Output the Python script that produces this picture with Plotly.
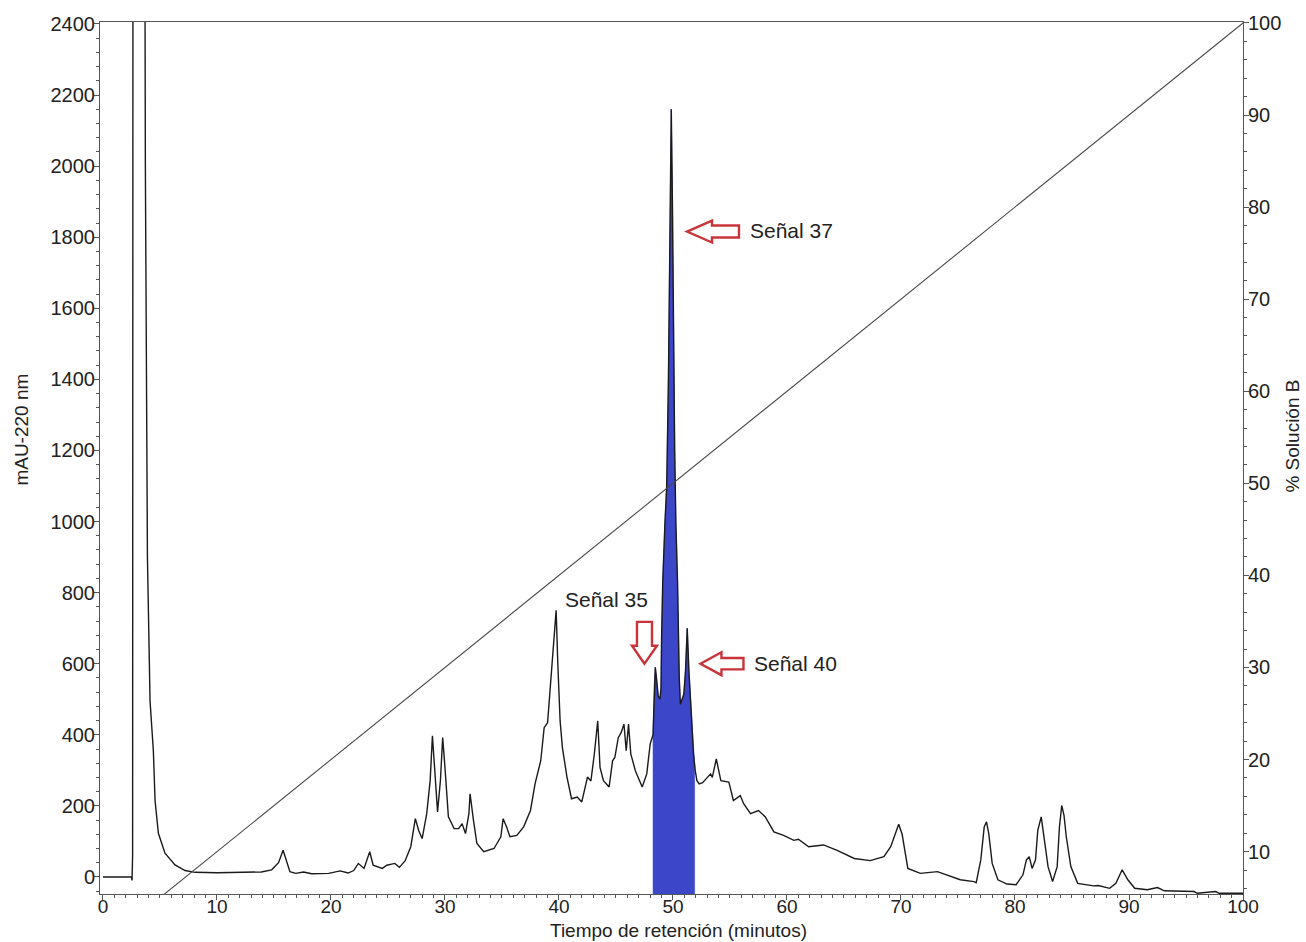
import numpy as np
import plotly.graph_objects as go

# ---- chromatogram (retention time in minutes, absorbance at 220 nm in mAU) ----
time_min = [
    0, 2.5, 2.55, 2.6, 2.63, 3.68, 3.72, 3.8, 3.9, 4.13, 4.42, 4.57, 4.86, 5.44,
    6.32, 7.2, 8.08, 10, 12, 13.9, 14.8, 15.4, 15.8, 16.1, 16.4, 16.9, 17.6, 18.3,
    19.8, 20.8, 21.5, 22.0, 22.4, 22.9, 23.4, 23.7, 24.0, 24.5, 24.9, 25.6, 26.0,
    26.5, 27.0, 27.4, 27.7, 28.0, 28.4, 28.7, 28.9, 29.2, 29.35, 29.6, 29.8, 30.0,
    30.3, 30.8, 31.2, 31.5, 31.8, 32.1, 32.2, 32.5, 32.8, 33.4, 34.3, 34.9, 35.1,
    35.4, 35.7, 36.3, 36.9, 37.5, 37.9, 38.4, 38.7, 39.0, 39.2, 39.5, 39.75, 39.9,
    40.1, 40.3, 40.4, 40.7, 41.1, 41.6, 42.0, 42.5, 42.8, 43.1, 43.4, 43.6, 43.9,
    44.4, 44.7, 44.9, 45.2, 45.45, 45.7, 45.9, 46.1, 46.3, 46.7, 47.3, 47.7, 48.0,
    48.25, 48.35, 48.45, 48.55, 48.7, 48.85, 48.95, 49.0, 49.1, 49.3, 49.45, 49.6,
    49.72, 49.85, 49.95, 50.05, 50.15, 50.25, 50.4, 50.55, 50.65, 50.8, 50.95,
    51.1, 51.25, 51.4, 51.6, 51.8, 51.95, 52.1, 52.3, 52.6, 53.3, 53.45, 53.8,
    54.2, 54.9, 55.3, 55.9, 56.2, 56.8, 57.5, 58.1, 58.85, 59.7, 60.6, 61.0, 61.9,
    63.2, 64.4, 65.9, 67.3, 68.5, 69.1, 69.8, 70.1, 70.6, 71.7, 73.2, 74.4, 75.2,
    76.4, 76.6, 77.0, 77.3, 77.5, 77.7, 78.0, 78.5, 79.3, 80.1, 80.7, 81.0, 81.25,
    81.5, 81.8, 82.0, 82.3, 82.55, 82.9, 83.3, 83.7, 83.9, 84.1, 84.3, 84.5, 84.9,
    85.5, 86.9, 87.3, 88.3, 88.85, 89.4, 89.9, 90.5, 91.6, 92.5, 93.1, 95.7, 96.0,
    97.6, 97.9, 100,
]
absorbance_mau = [
    0, 0, -10, 60, 2600, 2600, 2000, 1400, 900, 495, 355, 215, 123, 67,
    34, 18, 13, 12, 12, 14, 20, 40, 75, 45, 15, 10, 14, 9,
    10, 17, 11, 18, 38, 24, 71, 33, 30, 24, 33, 38, 27,
    45, 85, 164, 130, 108, 178, 271, 397, 271, 183, 271, 392, 308,
    169, 136, 136, 150, 122, 178, 234, 159, 94, 71, 80, 113, 164,
    141, 113, 117, 141, 187, 262, 327, 420, 434, 523, 644, 750, 598,
    439, 364, 341, 281, 220, 225, 211, 281, 270, 346, 439, 308, 271,
    253, 327, 336, 392, 406, 430, 355, 430, 346, 299, 253, 290, 374,
    400, 540, 590, 560, 510, 500, 530, 670, 830, 1000, 1100, 1400,
    1750, 2160, 1900, 1450, 1200, 1000, 830, 560, 486, 500, 514,
    580, 700, 579, 467, 346, 300, 271, 262, 265, 290, 280, 332,
    271, 267, 215, 229, 206, 178, 187, 169, 127, 117, 103, 106, 85,
    90, 75, 52, 46, 57, 85, 148, 120, 24, 10, 15, 0, -8,
    -13, -16, 48, 141, 155, 122, 38, -8, -20, -22, 6, 48, 57,
    24, 48, 131, 169, 113, 29, -13, 29, 141, 201, 173, 113, 29,
    -18, -25, -24, -32, -18, 20, -8, -32, -36, -30, -39, -41, -46,
    -41, -46, -46,
]

# ---- solvent gradient (% B vs time) ----
gradient_time = [0, 100]
gradient_b = [0, 100]

# collected fraction (shaded), minutes
fraction_window = [48.25, 51.9]

# axis ticks
x_ticks = list(range(0, 101, 10))
y_ticks = list(range(0, 2401, 200))
y2_ticks = list(range(10, 101, 10))

# peak labels: (text, time, mAU, anchor) and arrows: (tip time, tip mAU, direction, sizes in px)
peak_labels = [
    ("Señal 37", 56.6, 1818, "left"),
    ("Señal 35", 44.2, 780, "center"),
    ("Señal 40", 56.9, 600, "left"),
]
peak_arrows = [
    (51.23, 1816, "left", 52, 25, 11, 6),
    (52.41, 600, "left", 43, 21, 11.5, 5.7),
    (47.50, 600, "down", 42, 18, 12.5, 7.5),
]

# ---- layout geometry ----
W, H = 1306, 942
MARGIN = dict(l=100, r=63, t=19, b=48)
X_RANGE = [-0.26, 100.0]
Y_RANGE = [-48, 2405.6]
Y2_RANGE = [5.4, 100.1]
px_per_min = (W - MARGIN["l"] - MARGIN["r"]) / (X_RANGE[1] - X_RANGE[0])
px_per_mau = (H - MARGIN["t"] - MARGIN["b"]) / (Y_RANGE[1] - Y_RANGE[0])

t = np.array(time_min, dtype=float)
a = np.array(absorbance_mau, dtype=float)

fig = go.Figure()

# shaded fraction under the trace, down to the axis floor
t0, t1 = fraction_window
inside = (t > t0) & (t < t1)
fx = np.concatenate(([t0, t0], t[inside], [t1, t1]))
fy = np.concatenate(([Y_RANGE[0], np.interp(t0, t, a)], a[inside],
                     [np.interp(t1, t, a), Y_RANGE[0]]))
fig.add_trace(go.Scatter(
    x=fx, y=fy, mode="lines", fill="toself",
    fillcolor="#3c46c8", line=dict(color="#3c46c8", width=0.5),
    hoverinfo="skip", showlegend=False,
))

# absorbance trace
fig.add_trace(go.Scatter(
    x=t, y=a, mode="lines",
    line=dict(color="#1a1a1a", width=1.4),
    showlegend=False, name="mAU-220 nm",
))

# gradient on the secondary axis
fig.add_trace(go.Scatter(
    x=gradient_time, y=gradient_b, mode="lines", yaxis="y2",
    line=dict(color="#4a4a4a", width=1.1),
    showlegend=False, name="% Solución B",
))


def arrow_path(tip_t, tip_y, direction, length, head, half_head, half_shaft):
    """Hollow block arrow, sized in pixels, placed in data coordinates."""
    if direction == "left":
        pts = [(0, 0), (head, -half_head), (head, -half_shaft), (length, -half_shaft),
               (length, half_shaft), (head, half_shaft), (head, half_head)]
    else:  # down
        pts = [(0, 0), (-half_head, -head), (-half_shaft, -head), (-half_shaft, -length),
               (half_shaft, -length), (half_shaft, -head), (half_head, -head)]
    # pixel offsets: x to the right, y downward
    coords = []
    for dx, dy in pts:
        coords.append((tip_t + dx / px_per_min, tip_y - dy / px_per_mau))
    return "M " + " L ".join(f"{x:.4f},{y:.3f}" for x, y in coords) + " Z"


shapes = []
for tip_t, tip_y, direction, length, head, hh, hs in peak_arrows:
    shapes.append(dict(
        type="path", xref="x", yref="y",
        path=arrow_path(tip_t, tip_y, direction, length, head, hh, hs),
        line=dict(color="#c8343a", width=2.4), fillcolor="white",
    ))

annotations = []
for text, xt, yv, anchor in peak_labels:
    annotations.append(dict(
        x=xt, y=yv, xref="x", yref="y", text=text, showarrow=False,
        xanchor=anchor, yanchor="middle",
        font=dict(family="Liberation Sans, Arial, sans-serif", size=21, color="#222222"),
    ))

plot_w = W - MARGIN["l"] - MARGIN["r"]
plot_h = H - MARGIN["t"] - MARGIN["b"]
title_font = dict(family="Liberation Sans, Arial, sans-serif", color="#222222")
annotations += [
    dict(text="Tiempo de retención (minutos)", xref="paper", yref="paper",
         x=(678 - MARGIN["l"]) / plot_w, y=(H - MARGIN["b"] - 930.5) / plot_h,
         xanchor="center", yanchor="middle", showarrow=False,
         font=dict(size=19, **title_font)),
    dict(text="mAU-220 nm", xref="paper", yref="paper",
         x=(22 - MARGIN["l"]) / plot_w, y=(H - MARGIN["b"] - 428) / plot_h,
         xanchor="center", yanchor="middle", textangle=-90, showarrow=False,
         font=dict(size=19, **title_font)),
    dict(text="% Solución B", xref="paper", yref="paper",
         x=(1293 - MARGIN["l"]) / plot_w, y=(H - MARGIN["b"] - 435) / plot_h,
         xanchor="center", yanchor="middle", textangle=-90, showarrow=False,
         font=dict(size=19, **title_font)),
]

tick_font = dict(family="Liberation Sans, Arial, sans-serif", size=20, color="#222222")
x_tick_font = dict(tick_font, size=19)
axis_color = "#555555"

fig.update_layout(
    width=W, height=H, margin=MARGIN,
    paper_bgcolor="white", plot_bgcolor="white",
    showlegend=False,
    shapes=shapes, annotations=annotations,
    xaxis=dict(
        range=X_RANGE, tickvals=x_ticks, ticks="outside", ticklen=5,
        tickcolor=axis_color, tickfont=x_tick_font, ticklabelstandoff=-10,
        showline=True, linecolor=axis_color, linewidth=1, mirror=True,
        showgrid=False, zeroline=False,
        minor=dict(dtick=1, ticks="outside", ticklen=3, tickcolor=axis_color),
    ),
    yaxis=dict(
        range=Y_RANGE, tickvals=y_ticks, ticks="outside", ticklen=5,
        tickcolor=axis_color, tickfont=tick_font, ticklabelstandoff=-5,
        showline=True, linecolor=axis_color, linewidth=1,
        showgrid=False, zeroline=False,
        minor=dict(dtick=40, tick0=0, ticks="outside", ticklen=3, tickcolor=axis_color),
    ),
    yaxis2=dict(
        range=Y2_RANGE, tickvals=y2_ticks, overlaying="y", side="right",
        ticks="outside", ticklen=5, tickcolor=axis_color, tickfont=tick_font,
        ticklabelstandoff=-5,
        showline=True, linecolor=axis_color, linewidth=1,
        showgrid=False, zeroline=False,
        minor=dict(dtick=2, tick0=0, ticks="outside", ticklen=3, tickcolor=axis_color),
    ),
)

fig.write_html("out.html")
